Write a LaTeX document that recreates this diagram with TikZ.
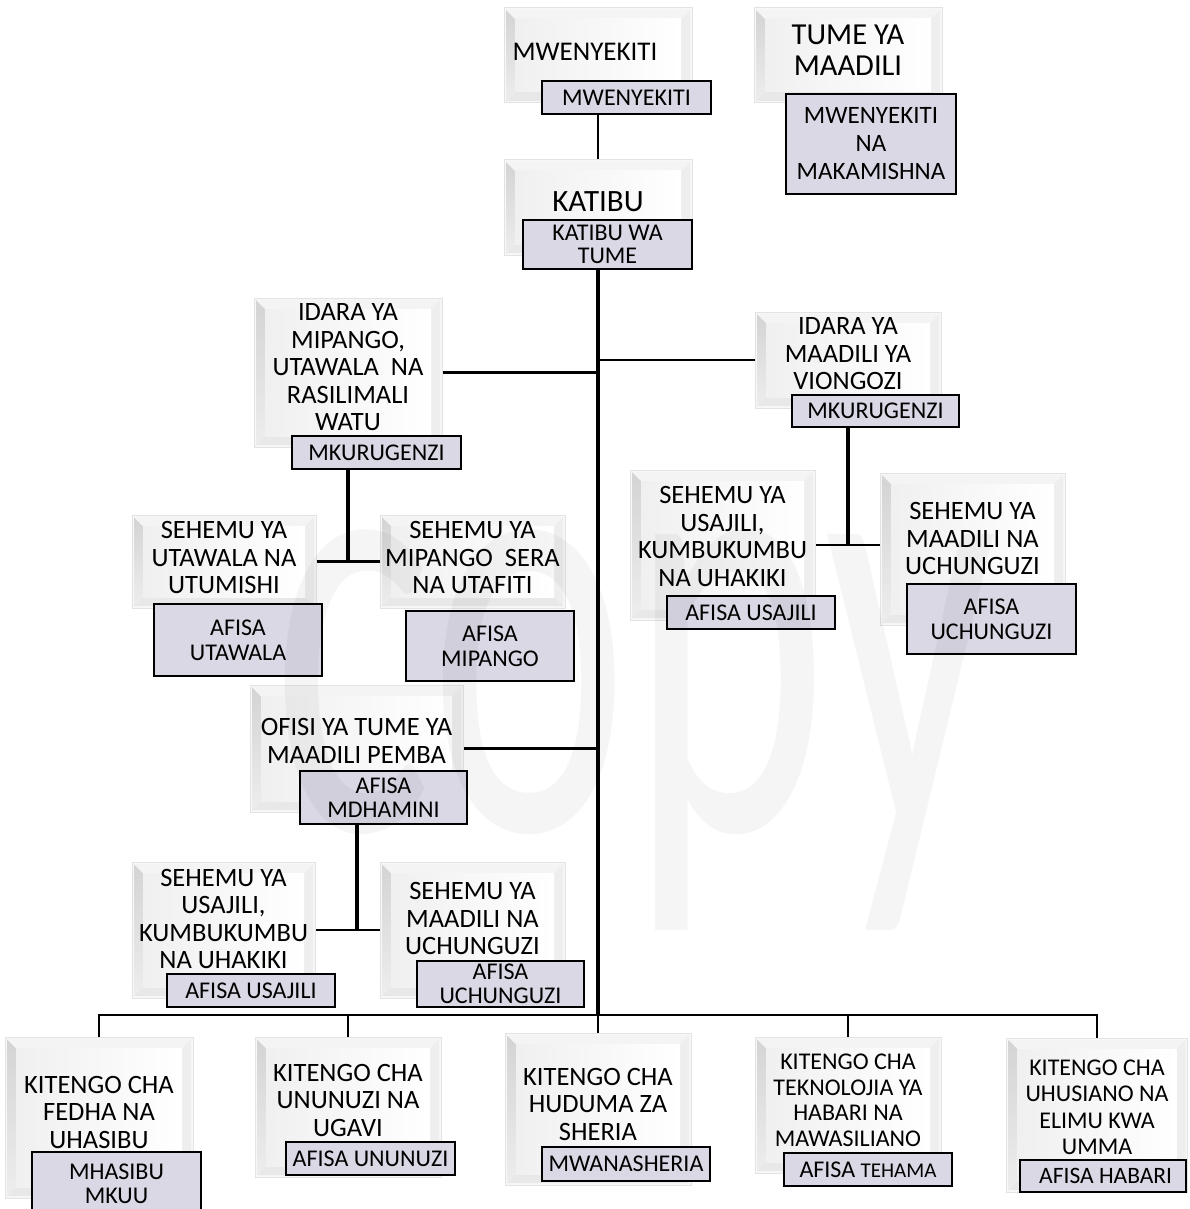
\documentclass[tikz,border=0pt]{standalone}
\usepackage{fontspec}
\setmainfont{Carlito}
\usetikzlibrary{positioning}

\definecolor{postFill}{RGB}{217,216,228}
\newcommand{\bevelWidth}{11pt}

\tikzset{
  unitBox/.style={draw=gray!22, line width=1pt, fill=white, inner sep=0pt, align=center,
    font=\fontsize{26.5}{27.5}\selectfont,
    path picture={
      \coordinate (pSW) at (path picture bounding box.south west);
      \coordinate (pNW) at (path picture bounding box.north west);
      \coordinate (pNE) at (path picture bounding box.north east);
      \coordinate (pSE) at (path picture bounding box.south east);
      \fill[gray!6] (pSW) rectangle (pNE);
      \shade[top color=gray!34, bottom color=gray!14] ([shift={(2pt,2pt)}]pSW) -- ([shift={(2pt,-2pt)}]pNW) -- ([shift={(\bevelWidth,-\bevelWidth)}]pNW) -- ([shift={(\bevelWidth,\bevelWidth)}]pSW) -- cycle;
      \fill[gray!9] ([shift={(2pt,-2pt)}]pNW) -- ([shift={(-2pt,-2pt)}]pNE) -- ([shift={(-\bevelWidth,-\bevelWidth)}]pNE) -- ([shift={(\bevelWidth,-\bevelWidth)}]pNW) -- cycle;
      \fill[gray!13] ([shift={(-2pt,-2pt)}]pNE) -- ([shift={(-2pt,2pt)}]pSE) -- ([shift={(-\bevelWidth,\bevelWidth)}]pSE) -- ([shift={(-\bevelWidth,-\bevelWidth)}]pNE) -- cycle;
      \fill[gray!18] ([shift={(2pt,2pt)}]pSW) -- ([shift={(-2pt,2pt)}]pSE) -- ([shift={(-\bevelWidth,\bevelWidth)}]pSE) -- ([shift={(\bevelWidth,\bevelWidth)}]pSW) -- cycle;
      \shade[left color=gray!12, right color=white] ([shift={(\bevelWidth,\bevelWidth)}]pSW) rectangle ([shift={(-\bevelWidth,-\bevelWidth)}]pNE);
    }},
  postBox/.style={draw=black, line width=2.5pt, fill=postFill, inner sep=0pt, align=center,
    font=\fontsize{24}{25}\selectfont},
  boxSize/.style 2 args={minimum width=#1pt, minimum height=#2pt},
  link/.style={black, line width=2.5pt},
  trunk/.style={black, line width=4pt},
}

\begin{document}
\begin{tikzpicture}[x=1pt, y=-1pt]
\useasboundingbox (0,0) rectangle (1189,1209);

\node[unitBox, boxSize={188}{95}, text depth=7pt, font=\fontsize{27}{31}\selectfont] (chairUnit) at (598,55.5) {\kern-26pt MWENYEKITI};
\node[postBox, boxSize={169}{33}] (chairPost) at (626.5,97.5) {MWENYEKITI};

\node[unitBox, boxSize={188}{95}, text depth=10pt, font=\fontsize{30.5}{31}\selectfont] (commissionUnit) at (848,55.5) {TUME YA\\MAADILI};
\node[postBox, boxSize={170}{100}, font=\fontsize{25}{28}\selectfont] (commissionPost) at (871,144) {MWENYEKITI\\NA\\MAKAMISHNA};

\node[unitBox, boxSize={188}{95}, text depth=11pt, font=\fontsize{31}{31}\selectfont] (secretaryUnit) at (598,207.5) {KATIBU};
\node[postBox, boxSize={169}{49}, font=\fontsize{24}{23.5}\selectfont] (secretaryPost) at (607.5,244.5) {KATIBU WA\\TUME};

\node[unitBox, boxSize={188}{149}, text depth=11pt] (planningUnit) at (348,372.5) {IDARA YA\\MIPANGO,\\UTAWALA\ \ NA\\RASILIMALI\\WATU};
\node[postBox, boxSize={169}{33}] (planningPost) at (376.5,452.5) {MKURUGENZI};

\node[unitBox, boxSize={186}{96}, text depth=13pt] (ethicsUnit) at (848,360) {IDARA YA\\MAADILI YA\\VIONGOZI};
\node[postBox, boxSize={167}{32}] (ethicsPost) at (875.5,411) {MKURUGENZI};

\node[unitBox, boxSize={185}{150}, text depth=17pt] (registryUnit) at (722.5,545) {SEHEMU YA\\USAJILI,\\KUMBUKUMBU\\NA UHAKIKI};
\node[postBox, boxSize={168}{33}] (registryPost) at (751,612.5) {AFISA USAJILI};

\node[unitBox, boxSize={185}{152}, text depth=21pt] (inquiryUnit) at (972.5,549) {SEHEMU YA\\MAADILI NA\\UCHUNGUZI};
\node[postBox, boxSize={169}{70}] (inquiryPost) at (991.5,619) {AFISA\\UCHUNGUZI};

\node[unitBox, boxSize={184}{93}, text depth=8pt] (staffUnit) at (224,561.5) {SEHEMU YA\\UTAWALA NA\\UTUMISHI};
\node[postBox, boxSize={168}{72}] (staffPost) at (238,640) {AFISA\\UTAWALA};

\node[unitBox, boxSize={185}{93}, text depth=8pt] (researchUnit) at (472.5,561.5) {SEHEMU YA\\MIPANGO\ \ SERA\\NA UTAFITI};
\node[postBox, boxSize={168}{70}] (researchPost) at (490,646) {AFISA\\MIPANGO};

\node[unitBox, boxSize={213}{127}, text depth=15pt] (pembaUnit) at (356.5,748.5) {OFISI YA TUME YA\\MAADILI PEMBA};
\node[postBox, boxSize={167}{53}, font=\fontsize{24}{24}\selectfont] (pembaPost) at (383.5,797.5) {AFISA\\MDHAMINI};

\node[unitBox, boxSize={183}{136}, text depth=22pt] (pembaRegistryUnit) at (223.5,930) {SEHEMU YA\\USAJILI,\\KUMBUKUMBU\\NA UHAKIKI};
\node[postBox, boxSize={168}{33}] (pembaRegistryPost) at (251,990.5) {AFISA USAJILI};

\node[unitBox, boxSize={185}{136}, text depth=23pt] (pembaInquiryUnit) at (472.5,930) {SEHEMU YA\\MAADILI NA\\UCHUNGUZI};
\node[postBox, boxSize={167}{46}, font=\fontsize{24}{24}\selectfont] (pembaInquiryPost) at (500.5,984) {AFISA\\UCHUNGUZI};

\node[unitBox, boxSize={188}{161}, text depth=11pt] (financeUnit) at (99,1117.5) {KITENGO CHA\\FEDHA NA\\UHASIBU};
\node[postBox, boxSize={169}{63}, font=\fontsize{24}{24}\selectfont] (financePost) at (116.5,1183.5) {MHASIBU\\MKUU};

\node[unitBox, boxSize={186}{140}, text depth=14pt] (procurementUnit) at (348,1107) {KITENGO CHA\\UNUNUZI NA\\UGAVI};
\node[postBox, boxSize={169}{33}] (procurementPost) at (370.5,1158.5) {AFISA UNUNUZI};

\node[unitBox, boxSize={186}{152}, text depth=10pt] (legalUnit) at (598,1109) {KITENGO CHA\\HUDUMA ZA\\SHERIA};
\node[postBox, boxSize={168}{34}] (legalPost) at (626,1164) {MWANASHERIA};

\node[unitBox, boxSize={186}{136}, text depth=10pt, font=\fontsize{24}{25.5}\selectfont] (ictUnit) at (848,1105) {KITENGO CHA\\TEKNOLOJIA YA\\HABARI NA\\MAWASILIANO};
\node[postBox, boxSize={168}{33}, font=\fontsize{24}{24}\selectfont] (ictPost) at (868,1169.5) {AFISA {\fontsize{21}{22}\selectfont TEHAMA}};

\node[unitBox, boxSize={181}{154}, text depth=16pt, font=\fontsize{24}{26.5}\selectfont] (mediaUnit) at (1097,1115) {KITENGO CHA\\UHUSIANO NA\\ELIMU KWA\\UMMA};
\node[postBox, boxSize={166}{32}, font=\fontsize{23.5}{24}\selectfont] (mediaPost) at (1103,1176) {\ AFISA HABARI};

\coordinate (busMid) at (598,1015);

\draw[link] (chairUnit |- chairPost.south) -- (secretaryUnit.north);
\draw[trunk] (secretaryUnit |- secretaryPost.south) -- (busMid);
\draw[link] (planningUnit.east) -- (planningUnit.east -| busMid);
\draw[link] (ethicsUnit.west) -- (ethicsUnit.west -| busMid);
\draw[link] (pembaUnit.east) -- (pembaUnit.east -| busMid);

\draw[trunk] (planningUnit |- planningPost.south) -- (planningUnit |- staffUnit.east);
\draw[link] (staffUnit.east) -- (researchUnit.west);
\draw[trunk] (ethicsUnit |- ethicsPost.south) -- (ethicsUnit |- registryUnit.east);
\draw[link] (registryUnit.east) -- (registryUnit.east -| inquiryUnit.west);
\draw[trunk] (pembaUnit |- pembaPost.south) -- (pembaUnit |- pembaRegistryUnit.east);
\draw[link] (pembaRegistryUnit.east) -- (pembaInquiryUnit.west);

\draw[link] (financeUnit.north) -- (financeUnit.north |- busMid) -| (mediaUnit.north);
\foreach \unit in {procurementUnit, legalUnit, ictUnit}
  \draw[link] (\unit.north) -- (\unit.north |- busMid);

\node[text opacity=0.04, anchor=base, inner sep=0pt, xscale=0.61, font=\fontsize{620}{620}\selectfont] (watermark) at (635,830) {copy};

\end{tikzpicture}
\end{document}
